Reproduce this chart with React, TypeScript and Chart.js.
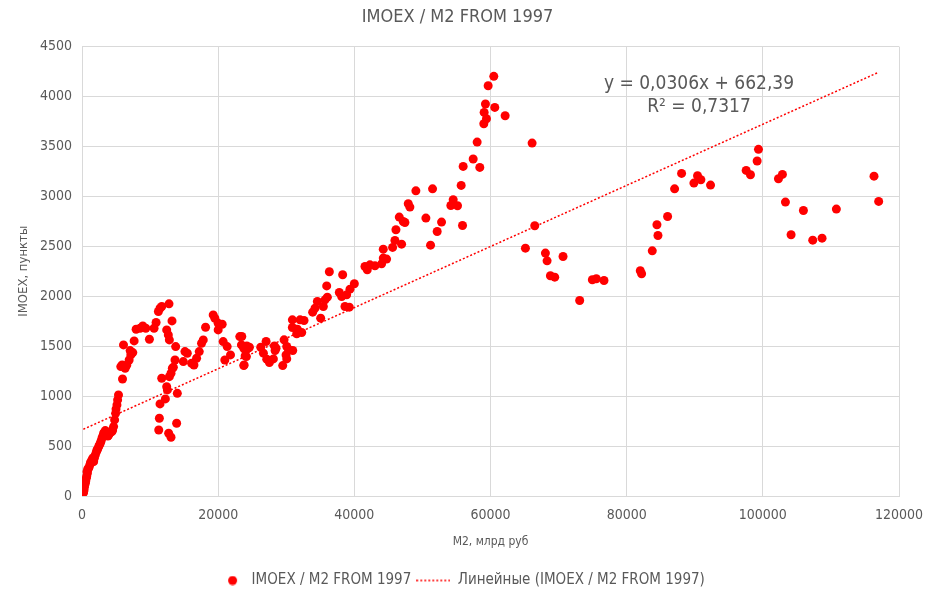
import Chart from 'chart.js/auto';
import { type FC, useEffect, useRef } from 'react';

const TITLE = 'IMOEX / M2 FROM 1997';
const X_TITLE = 'M2, млрд руб';
const Y_TITLE = 'IMOEX, пункты';
const TREND_LABEL = 'Линейные (IMOEX / M2 FROM 1997)';
const EQUATION = ['y = 0,0306x + 662,39', 'R² = 0,7317'];
const SLOPE = 0.0306;
const INTERCEPT = 662.39;

// M2 (млрд руб) and IMOEX (пункты)
const m2 = [
  200, 240, 300, 340, 400, 485, 550, 630, 700, 730, 800, 850, 975, 1100, 1220, 1300, 1460, 1600, 1710, 1805,
  1950, 2100, 2200, 2300, 2440, 2550, 2685, 2800, 2930, 3050, 3175, 3300, 3420, 3550, 3660, 3800, 3910, 4050,
  4150, 4300, 4400, 4500, 4640, 4790, 4935, 5000, 5130, 5230, 5360,
  5950, 5700, 5900, 6095, 6340, 6580, 6925, 7170, 7070, 7460, 7660, 7950, 8535, 8925, 9365, 9900, 10585, 10880,
  11220, 11460, 11710, 12780, 13220, 12440, 12680, 12830, 13760, 13660, 14880, 15120, 15465, 16100, 16440, 16830,
  17220, 17560, 17810, 18150, 19270, 19515, 20000, 20590, 20000, 20735, 21320, 20980, 21810, 23175, 23420, 23760,
  24050, 24395, 23760, 24150,
  11710, 11460, 12245, 12540, 12440, 12830, 13075, 13270, 13415, 14000, 11365, 11270, 12730, 13075, 13900,
  23470, 23710, 24200, 24590, 23960, 23810, 26255, 27040, 26645, 27135, 27525, 28110, 28260, 28500, 28360, 29480,
  29680, 30070, 30315, 29970, 30070, 30950, 30900, 30900, 31535, 31635, 32025, 32270, 32610, 33880, 34225, 34570,
  35055, 35450, 35690, 36035, 35940, 36330, 37795, 38285, 38140, 38625, 39265, 38870, 39360, 40000, 41560, 41900,
  42295, 43030, 44005, 44250, 44740, 44250, 45620, 45960, 46940, 46110, 46600, 47185, 47430, 47920, 48160, 49040,
  50510, 51195, 51490, 52170, 52810, 54175, 54520, 55155, 55890, 55695, 55985, 57455, 58430, 58040, 59020, 59410,
  59065, 59260, 60630, 59655, 60485, 62150, 66110, 66500, 65130,
  68065, 68310, 68800, 69435, 70655, 73100, 74960, 75545, 76670, 82000, 82195, 83760, 84445, 84595, 86010, 87040,
  88065, 89875, 90410, 90900, 92320, 97550, 98185, 99165, 99360, 102295, 102880, 103320, 104150, 105960, 107330,
  108700, 110800, 116330, 117015,
];
const imoex = [
  30, 43, 60, 87, 110, 127, 150, 177, 200, 244, 230, 270, 277, 300, 327, 340, 361, 380, 344, 378,
  411, 440, 461, 470, 494, 510, 528, 550, 578, 600, 628, 640, 655, 620, 628, 600, 611, 630,
  635, 650, 645, 660, 695, 762, 828, 870, 912, 962, 1012,
  1172, 1296, 1312, 1513, 1279, 1312, 1362, 1413, 1456, 1436, 1553, 1670, 1680, 1703, 1680, 1570, 1680, 1737,
  1847, 1880, 1897, 1924, 1753, 1663, 1613, 1563, 1496, 1362, 1346, 1446, 1429, 1329, 1312, 1379,
  1446, 1529, 1563, 1690, 1813, 1780, 1730, 1720, 1663, 1546, 1496, 1362, 1413, 1596, 1513, 1479,
  1456, 1479, 1306, 1396,
  1179, 922, 972, 1062, 1095, 1195, 1229, 1279, 1289, 1028, 778, 661, 628, 588, 728,
  1597, 1497, 1503, 1490, 1403, 1313, 1490, 1547, 1430, 1370, 1336, 1373, 1503, 1480, 1457, 1306,
  1564, 1497, 1470, 1413, 1373, 1457, 1764, 1687, 1624, 1670, 1764, 1637, 1757, 1841, 1881, 1948,
  1781, 1898, 1964, 1991, 2104, 2245, 2038, 2215, 1998, 1898, 1891, 2014, 2071, 2125, 2298, 2265,
  2315, 2305, 2325, 2382, 2372, 2472, 2489, 2559, 2522, 2666, 2793, 2749, 2739, 2926, 2893, 3056,
  2783, 2512, 3076, 2649, 2743, 2909, 2966, 2906, 2709, 3110, 3300, 3374, 3290, 3544, 3728, 3778,
  3841, 3925, 3891, 4108, 4202, 3808, 3534, 2706, 2482,
  2432, 2355, 2205, 2191, 2398, 1958, 2165, 2175, 2158, 2255, 2225, 2455, 2716, 2609, 2799, 3076,
  3230, 3133, 3207, 3167, 3113, 3260, 3217, 3354, 3471, 3177, 3220, 2943, 2616, 2859, 2562,
  2582, 2873, 3203, 2950,
];

const FONT = '"DejaVu Sans Condensed", "DejaVu Sans", sans-serif';
const TEXT = '#595959';
const GRID = '#d9d9d9';
const RED = '#ff0000';

// plot area edges in the reference
const PLOT_LEFT = 82;
const PLOT_BOTTOM = 496;
const PAD_LEFT = 16;
const PAD_BOTTOM = -5;

// legend markers as small canvases (the library draws them centred in the legend box)
const makeDotMarker = () => {
  const c = document.createElement('canvas');
  c.width = 34;
  c.height = 10;
  const g = c.getContext('2d');
  if (g) {
    g.fillStyle = RED;
    g.beginPath();
    g.arc(22.5, 5, 4.5, 0, Math.PI * 2);
    g.fill();
  }
  return c;
};

const makeDottedMarker = () => {
  const c = document.createElement('canvas');
  c.width = 34;
  c.height = 4;
  const g = c.getContext('2d');
  if (g) {
    g.strokeStyle = RED;
    g.lineWidth = 1.5;
    g.setLineDash([2, 2]);
    g.beginPath();
    g.moveTo(0, 2);
    g.lineTo(34, 2);
    g.stroke();
  }
  return c;
};

const equationPlugin = {
  id: 'equation',
  afterDraw(chart: Chart) {
    const { ctx, chartArea } = chart;
    ctx.save();
    ctx.fillStyle = TEXT;
    ctx.font = `19px ${FONT}`;
    ctx.textAlign = 'center';
    ctx.textBaseline = 'middle';
    const cx = chartArea.right - 200;
    ctx.fillText(EQUATION[0], cx, chartArea.top + 37);
    ctx.fillText(EQUATION[1], cx, chartArea.top + 60);
    ctx.restore();
  },
};

const App: FC = () => {
  const chartRef = useRef<HTMLCanvasElement>(null);
  const chartInstance = useRef<Chart | null>(null);

  useEffect(() => {
    document.body.style.margin = '0';
    if (!chartRef.current) return;
    const ctx = chartRef.current.getContext('2d');
    if (!ctx) return;

    if (chartInstance.current) {
      chartInstance.current.destroy();
    }

    const points = m2.map((x, i) => ({ x, y: imoex[i] }));
    const xMin = Math.min(...m2);
    const xMax = Math.max(...m2);
    const trend = [xMin, xMax].map(x => ({ x, y: SLOPE * x + INTERCEPT }));
    const dotMarker = makeDotMarker();
    const dottedMarker = makeDottedMarker();

    chartInstance.current = new Chart(ctx, {
      type: 'scatter',
      data: {
        datasets: [
          {
            label: TITLE,
            data: points,
            backgroundColor: RED,
            borderColor: RED,
            borderWidth: 0,
            pointRadius: 4.5,
            pointHoverRadius: 4.5,
          },
          {
            type: 'line',
            label: TREND_LABEL,
            data: trend,
            borderColor: RED,
            borderWidth: 1.5,
            borderDash: [2, 2],
            pointRadius: 0,
            fill: false,
          },
        ],
      },
      plugins: [equationPlugin],
      options: {
        animation: false,
        responsive: true,
        maintainAspectRatio: false,
        layout: { padding: { left: PAD_LEFT, right: 27, top: 0, bottom: PAD_BOTTOM } },
        plugins: {
          title: {
            display: true,
            text: TITLE,
            color: TEXT,
            font: { family: FONT, size: 18, weight: 'normal' },
            padding: { top: 7, bottom: 18 },
          },
          legend: {
            position: 'bottom',
            labels: {
              color: TEXT,
              font: { family: FONT, size: 15 },
              usePointStyle: true,
              pointStyleWidth: 34,
              padding: 5,
              generateLabels: () => [
                {
                  text: TITLE,
                  fillStyle: RED,
                  strokeStyle: RED,
                  lineWidth: 0,
                  pointStyle: dotMarker,
                  datasetIndex: 0,
                  fontColor: TEXT,
                },
                {
                  text: TREND_LABEL,
                  fillStyle: RED,
                  strokeStyle: RED,
                  lineWidth: 0,
                  pointStyle: dottedMarker,
                  datasetIndex: 1,
                  fontColor: TEXT,
                },
              ],
            },
          },
          tooltip: { enabled: false },
        },
        scales: {
          x: {
            type: 'linear',
            min: 0,
            max: 120000,
            ticks: {
              stepSize: 20000,
              color: TEXT,
              font: { family: FONT, size: 14 },
              padding: 11,
              maxRotation: 0,
              callback: value => String(value),
            },
            grid: { color: GRID, drawTicks: false },
            border: { color: GRID },
            title: {
              display: true,
              text: X_TITLE,
              color: TEXT,
              font: { family: FONT, size: 12 },
              padding: { top: 0, bottom: 19 },
            },
            afterFit: scale => {
              const legendH = scale.chart.legend?.height ?? 33;
              scale.height = scale.chart.height - PAD_BOTTOM - legendH - PLOT_BOTTOM;
              scale.paddingLeft = 0;
              scale.paddingRight = 0;
            },
          },
          y: {
            min: 0,
            max: 4500,
            ticks: {
              stepSize: 500,
              color: TEXT,
              font: { family: FONT, size: 14 },
              padding: 10,
              callback: value => String(value),
            },
            grid: { color: GRID, drawTicks: false },
            border: { color: GRID },
            title: {
              display: true,
              text: Y_TITLE,
              color: TEXT,
              font: { family: FONT, size: 13 },
              padding: { top: 0, bottom: 0 },
            },
            afterFit: scale => {
              scale.width = PLOT_LEFT - PAD_LEFT;
            },
          },
        },
      },
    });

    return () => {
      if (chartInstance.current) {
        chartInstance.current.destroy();
        chartInstance.current = null;
      }
    };
  }, []);

  return (
    <div style={{ width: 926, height: 593, position: 'relative' }}>
      <canvas ref={chartRef} />
    </div>
  );
};

export default App;
